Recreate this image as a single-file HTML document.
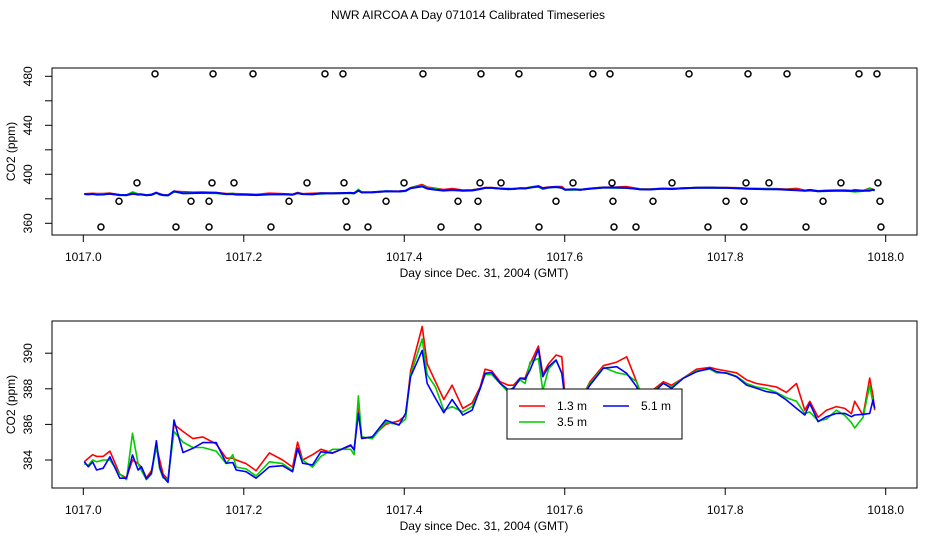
<!DOCTYPE html>
<html><head><meta charset="utf-8"><style>
body{margin:0;background:#fff}
svg{display:block;font-family:"Liberation Sans",sans-serif}
</style></head><body>
<svg id="chart" width="936" height="540" viewBox="0 0 936 540" xmlns="http://www.w3.org/2000/svg">
<rect width="936" height="540" fill="#fff"/>
<text x="468" y="19" font-size="12" text-anchor="middle">NWR AIRCOA A  Day 071014  Calibrated Timeseries</text>
<g id="top"></g>
<g id="bot"></g>
</svg>
<script>
const days=[0.0012,0.0062,0.0116,0.0166,0.0248,0.0331,0.0455,0.0538,0.0613,0.0683,0.0725,0.0787,0.0849,0.0911,0.0952,0.0994,0.1056,0.1130,0.1242,0.1366,0.1491,0.1656,0.1781,0.1863,0.1905,0.2029,0.2153,0.2319,0.2484,0.2609,0.2671,0.2733,0.2857,0.2961,0.3106,0.3333,0.3375,0.3429,0.3470,0.3602,0.3768,0.3934,0.4017,0.4079,0.4224,0.4286,0.4389,0.4493,0.4596,0.4729,0.4845,
0.4946,0.5008,0.5091,0.5195,0.5299,0.5361,0.5444,0.5506,0.5568,0.5672,0.5726,0.5797,0.5892,0.5963,0.6004,0.6066,0.6129,0.6191,0.6315,0.6481,0.6647,0.6772,0.6896,0.6938,0.7062,0.7228,0.7332,0.7477,0.7643,0.7809,0.7892,0.8017,0.8141,0.8266,0.8390,0.8515,0.8639,0.8763,0.8888,0.8992,0.9054,0.9158,0.9261,0.9386,0.9490,0.9573,0.9614,0.9718,0.9801,0.9842,0.9863];
const series13=[383.9,384.1,384.3,384.2,384.2,384.5,383.2,383.0,384.0,383.8,383.6,383.0,383.4,384.7,384.0,383.2,382.9,386.0,385.6,385.2,385.3,384.9,384.1,384.1,384.0,383.8,383.4,384.4,384.0,383.6,385.0,384.0,384.3,384.6,384.4,384.8,384.6,386.9,385.2,385.3,386.0,386.2,386.5,389.0,391.5,389.4,388.4,387.4,388.2,386.9,387.2,
388.1,389.1,389.0,388.4,388.2,388.2,388.6,388.6,389.4,390.4,388.8,389.4,389.9,389.8,387.5,387.7,387.6,387.3,388.4,389.3,389.5,389.8,388.4,387.8,387.8,388.4,388.2,388.6,389.1,389.2,389.1,389.0,388.9,388.5,388.3,388.2,388.1,387.8,388.3,386.8,387.3,386.4,386.8,387.0,386.9,386.6,387.3,386.5,388.6,387.6,386.8];
const series35=[383.8,383.7,384.0,383.9,384.0,384.0,383.2,382.9,385.5,383.8,383.4,382.9,383.2,384.8,383.5,383.0,382.9,385.6,385.0,384.7,384.7,384.5,383.8,384.3,383.6,383.5,383.1,383.9,383.8,383.4,384.6,384.0,383.6,384.2,384.6,384.6,384.3,387.6,385.3,385.2,386.1,386.0,386.3,388.8,390.8,388.8,388.1,386.8,387.0,386.7,387.0,
388.0,388.8,388.8,388.3,387.8,388.1,388.5,388.3,389.5,389.7,387.9,389.1,389.6,388.9,387.5,387.3,387.4,387.4,388.3,389.2,388.9,388.8,388.4,387.9,387.7,388.3,388.1,388.6,389.0,389.1,388.9,388.9,388.7,388.3,388.1,388.0,387.8,387.5,387.3,386.6,386.7,386.2,386.3,386.8,386.5,386.1,385.8,386.4,388.2,387.2,386.9];
const series51=[383.9,383.62,383.9,383.44,383.54,384.18,382.98,382.98,384.28,383.44,383.62,382.94,383.26,385.08,383.62,383.06,382.74,386.24,384.42,384.66,384.98,384.98,383.82,383.86,383.44,383.34,382.98,383.62,383.68,383.34,384.66,383.82,383.72,384.46,384.38,384.84,384.56,386.62,385.22,385.3,386.24,385.96,386.62,388.68,390.16,388.3,387.46,386.66,387.4,386.52,386.8,
388.03,388.87,388.91,388.31,387.93,388.03,388.59,388.53,389.06,390.22,388.68,389.24,389.62,388.87,387.37,387.56,387.84,387.33,388.21,389.15,389.24,388.87,388.12,387.65,387.6,388.31,388.03,388.59,388.96,389.15,388.96,388.87,388.68,388.21,388.03,387.84,387.75,387.37,386.9,386.53,387.18,386.15,386.43,386.62,386.62,386.43,386.53,386.57,386.62,387.37,386.9];
const refDays357=[0.022,0.1155,0.1567,0.2339,0.3286,0.3548,0.4458,0.4919,0.5679,0.6614,0.6888,0.7785,0.8234,0.9007,0.9941];
const refDays378=[0.0445,0.1342,0.1567,0.2564,0.3274,0.3773,0.4670,0.4919,0.5891,0.6601,0.7100,0.8010,0.8234,0.9219,0.9929];
const refDays393=[0.0669,0.1604,0.1878,0.2788,0.3249,0.3997,0.4944,0.5206,0.6103,0.6589,0.7337,0.8259,0.8545,0.9442,0.9903];
const refDays482=[0.0894,0.1617,0.2115,0.3012,0.3236,0.4233,0.4956,0.5429,0.6351,0.6564,0.7549,0.8284,0.8770,0.9667,0.9891];
const refLevels=[357,378,393,482];
const xTicks=["1017.0","1017.2","1017.4","1017.6","1017.8","1018.0"];
const topTickVals=[360,380,400,420,440,460,480];
const topTickLabels=["360","400","440","480"];
const botTickLabels=["384","386","388","390"];

const NS="http://www.w3.org/2000/svg";
function mk(tag,attrs,parent){const e=document.createElementNS(NS,tag);for(const k in attrs)e.setAttribute(k,attrs[k]);parent.appendChild(e);return e;}
const xS=d=>83.3+d*802.4;
const yTop=v=>223.3-(v-360)*1.225;
const yBot=v=>460-(v-384)*17.8;

function frame(g,top,bottom,yS,tickVals,tickLabels){
  const r=mk('rect',{x:52,y:top,width:865,height:bottom-top,fill:'none',stroke:'#000','stroke-width':1},g);
  
  
  xTicks.forEach((t,i)=>{
    const x=xS(parseFloat(t)-1017);
    const l=mk('line',{x1:x,x2:x,y1:bottom,y2:bottom+7,stroke:'#000'},g);
    
    
    const tx=mk('text',{x:x,y:bottom+26,'font-size':12,'text-anchor':'middle'},g);
    tx.textContent=t;
    
    
  });
  tickVals.forEach(v=>{
    const y=yS(v);
    const l=mk('line',{x1:45,x2:52,y1:y,y2:y,stroke:'#000'},g);
    
    
  });
  tickLabels.forEach(s=>{
    const y=yS(parseFloat(s));
    const tx=mk('text',{x:0,y:0,'font-size':12,'text-anchor':'middle',transform:`translate(32,${y}) rotate(-90)`},g);
    tx.textContent=s;
    
    
  });
  const xl=mk('text',{x:484,y:bottom+42,'font-size':12,'text-anchor':'middle'},g);
  xl.textContent='Day since Dec. 31, 2004 (GMT)';
  
  
  const yl=mk('text',{x:0,y:0,'font-size':12,'text-anchor':'middle',transform:`translate(15,${(top+bottom)/2}) rotate(-90)`},g);
  yl.textContent='CO2 (ppm)';
  
  
}
function lines(g,yS,sw){
  [[series13,'#ff0000','series-1-3m'],[series35,'#00cc00','series-3-5m'],[series51,'#0000ff','series-5-1m']].forEach(([s,c,n])=>{
    const n2=Math.min(s.length,days.length);
    let d='';
    for(let i=0;i<n2;i++)d+=(i?'L':'M')+xS(days[i]).toFixed(1)+','+yS(s[i]).toFixed(1);
    const p=mk('path',{d:d,fill:'none',stroke:c,'stroke-width':sw,'stroke-linejoin':'round'},g);
    
    
  });
}
const gt=document.getElementById('top'), gb=document.getElementById('bot');
frame(gt,68,235,yTop,topTickVals,topTickLabels);
lines(gt,yTop,2);
[refDays357,refDays378,refDays393,refDays482].forEach((arr,k)=>{
  arr.forEach(d=>{
    const c=mk('circle',{cx:xS(d),cy:yTop(refLevels[k]),r:3,fill:'none',stroke:'#000','stroke-width':1.5},gt);
    
    
  });
});
frame(gb,321,488,yBot,[384,386,388,390],botTickLabels);
lines(gb,yBot,1.6);
const lg=mk('g',{},gb);


mk('rect',{x:507,y:389,width:175,height:50,fill:'#fff',stroke:'#000'},lg);
[[519,406,'#ff0000','1.3 m',557],[603,406,'#0000ff','5.1 m',641],[519,422,'#00cc00','3.5 m',557]].forEach(([x,y,c,t,tx])=>{
  const l=mk('line',{x1:x,x2:x+26,y1:y,y2:y,stroke:c,'stroke-width':1.5},lg);
  
  
  const te=mk('text',{x:tx,y:y+4,'font-size':12},lg);
  te.textContent=t;
  
  
});
</script>
</body></html>
